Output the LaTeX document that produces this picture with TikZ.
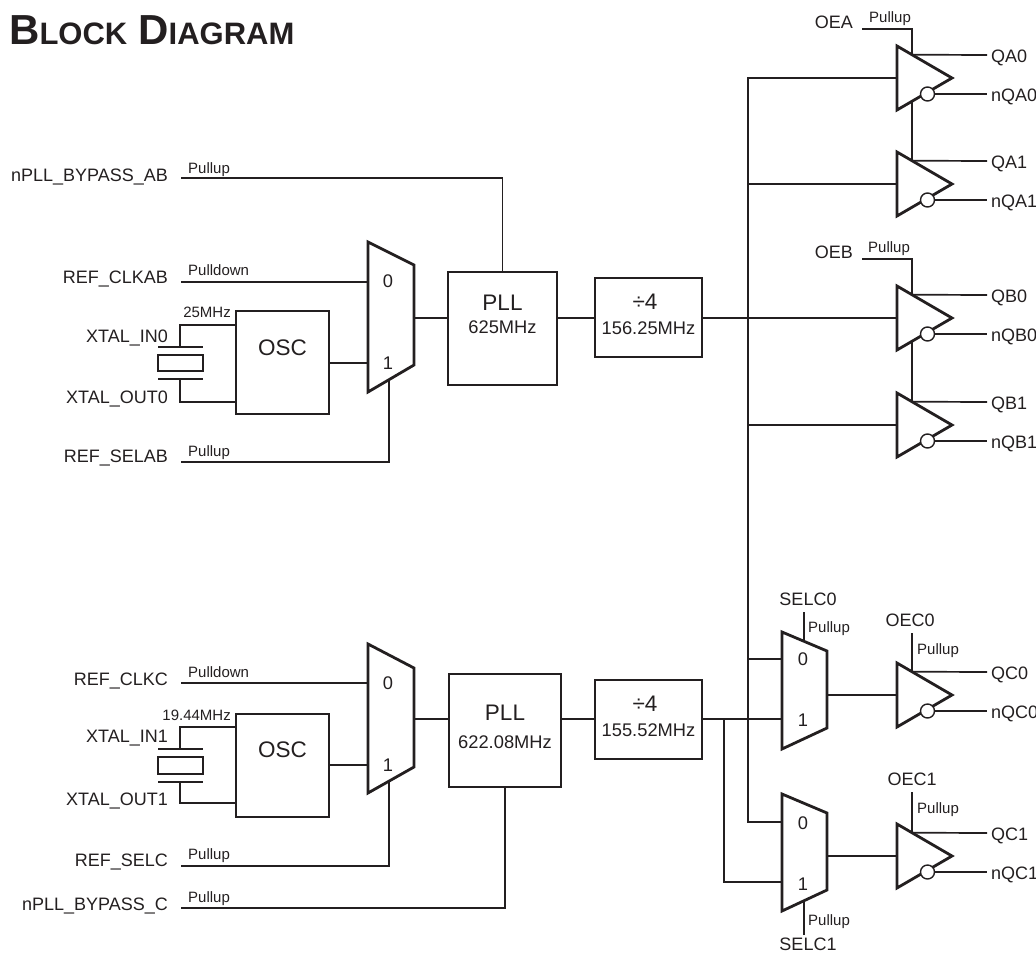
\documentclass[tikz,border=0pt]{standalone}
\usepackage{fontspec}
\setmainfont{Liberation Sans}
\definecolor{ink}{HTML}{231F20}
\tikzset{
  wire/.style={draw=ink, line width=1.7pt},
  blk/.style={draw=ink, line width=2pt, inner sep=0pt, outer sep=0pt},
  bufs/.style={draw=ink, line width=2.8pt, fill=white, line join=miter},
  muxs/.style={draw=ink, line width=2.8pt, line join=miter},
  bubs/.style={draw=ink, line width=1.4pt, fill=white},
  lbl/.style={text=ink, inner sep=0pt, font=\fontsize{18}{20}\selectfont},
  pul/.style={text=ink, inner sep=0pt, font=\fontsize{15}{17}\selectfont},
  big/.style={text=ink, inner sep=0pt, font=\fontsize{22.5}{26}\selectfont},
  mid/.style={text=ink, inner sep=0pt, font=\fontsize{18.3}{21}\selectfont},
  buffer/.pic={
    \coordinate (-in) at (-27.5,0);
    \coordinate (-oet) at (-12.5,-23.3);
    \coordinate (-oeb) at (-12.5,23.3);
    \coordinate (-q) at (62.5,-23);
    \coordinate (-nqs) at (10,16);
    \coordinate (-nq) at (62.5,16);
    \draw[wire] (-oet) -- (-q);
    \draw[wire] (-nqs) -- (-nq);
    \draw[bufs] (-27.5,-32) -- (27.5,0) -- (-27.5,32) -- cycle;
    \draw[bubs] (3,16) circle[radius=7pt];
  }
}
\begin{document}
\begin{tikzpicture}[x=1pt,y=-1pt]
\useasboundingbox (0,0) rectangle (1036,956);

% title
\node[anchor=base west, inner sep=0pt, text=ink] (title) at (9,44.5)
  {\bfseries\fontsize{42}{48}\selectfont B\fontsize{31}{36}\selectfont LOCK\hspace{11pt}\fontsize{42}{48}\selectfont D\fontsize{31}{36}\selectfont IAGRAM};

% ================= top section =================
\node[blk, minimum width=93pt, minimum height=103pt] (osc0) at (282.5,362.5) {};
\node[big] (osc0t) at (282.5,348) {OSC};
\node[blk, minimum width=109pt, minimum height=113pt] (pll0) at (502.5,328.5) {};
\node[big] (pll0t) at (502.5,303) {PLL};
\node[mid] (pll0f) at (502.5,327) {625MHz};
\node[blk, minimum width=107pt, minimum height=79pt] (div0) at (648.5,317.5) {};
\node[big] (div0t) at (645,302) {÷4};
\node[mid] (div0f) at (648.5,328) {156.25MHz};

% mux 0
\draw[muxs] (368,242) -- (414,265) -- (414,365) -- (368,392) -- cycle;
\node[mid] (m0a) at (388,281) {0};
\node[mid] (m0b) at (388,363) {1};
\coordinate (m0in0) at (368,282);
\coordinate (m0in1) at (368,363);
\coordinate (m0sel) at (389,379.7);
\coordinate (m0out) at (414,318);

% input labels
\node[lbl, anchor=base east] (nbab) at (168,181.5) {nPLL\_BYPASS\_AB};
\node[pul, anchor=base west] (nbabp) at (188,173) {Pullup};
\coordinate (nbabw) at (181,178);
\node[lbl, anchor=base east] (rcab) at (168,283) {REF\_CLKAB};
\node[pul, anchor=base west] (rcabp) at (188,275.5) {Pulldown};
\coordinate (rcabw) at (181,282);
\node[lbl, anchor=base east] (xi0) at (168,342) {XTAL\_IN0};
\node[lbl, anchor=base east] (xo0) at (168,403) {XTAL\_OUT0};
\node[pul, anchor=base east] (f0) at (231,317) {25MHz};
\node[lbl, anchor=base east] (rsab) at (168,462) {REF\_SELAB};
\node[pul, anchor=base west] (rsabp) at (188,456.5) {Pullup};
\coordinate (rsabw) at (181,462);

\draw[wire] (nbabw) -| (pll0.north);
\draw[wire] (rcabw) -- (m0in0);
\draw[wire] (rsabw) -| (m0sel);
\draw[wire] (m0out) -- (m0out -| pll0.west);
\draw[wire] (pll0.east |- m0out) -- (div0.west |- m0out);

% crystal 0
\coordinate (x0t) at (180,325);
\coordinate (x0b) at (180,402);
\draw[wire] (osc0.west |- x0t) -- (x0t) -- (180,347);
\draw[wire] (158,347) -- (203,347);
\draw[wire] (158,355) rectangle (203,371);
\draw[wire] (158,379) -- (203,379);
\draw[wire] (180,379) -- (x0b) -- (osc0.west |- x0b);
\draw[wire] (osc0.east |- m0in1) -- (m0in1);

% ================= buffers A/B =================
\pic (ba0) at (924.5,78) {buffer};
\pic (ba1) at (924.5,184) {buffer};
\pic (bb0) at (924.5,318) {buffer};
\pic (bb1) at (924.5,425) {buffer};

\coordinate (oea) at (862,29);
\coordinate (oeb) at (862,259);
\node[lbl, anchor=base east] (oeat) at (853,28) {OEA};
\node[pul, anchor=base west] (oeap) at (869,22) {Pullup};
\node[lbl, anchor=base east] (oebt) at (853,258) {OEB};
\node[pul, anchor=base west] (oebp) at (868,252) {Pullup};
\draw[wire] (oea) -| (ba0-oet);
\draw[wire] (ba0-oeb) -- (ba1-oet);
\draw[wire] (oeb) -| (bb0-oet);
\draw[wire] (bb0-oeb) -- (bb1-oet);

\node[lbl, anchor=base west] (qa0) at (991,62) {QA0};
\node[lbl, anchor=base west] (nqa0) at (991,101) {nQA0};
\node[lbl, anchor=base west] (qa1) at (991,168) {QA1};
\node[lbl, anchor=base west] (nqa1) at (991,207) {nQA1};
\node[lbl, anchor=base west] (qb0) at (991,302) {QB0};
\node[lbl, anchor=base west] (nqb0) at (991,341) {nQB0};
\node[lbl, anchor=base west] (qb1) at (991,409) {QB1};
\node[lbl, anchor=base west] (nqb1) at (991,448) {nQB1};

% bus
\coordinate (bustop) at (748,78);
\coordinate (busbot) at (748,822);
\draw[wire] (div0.east |- m0out) -- (bb0-in);
\draw[wire] (ba0-in) -- (bustop) -- (busbot) -- (782,822);
\draw[wire] (748,184) -- (ba1-in);
\draw[wire] (748,425) -- (bb1-in);

% ================= bottom section =================
\node[blk, minimum width=93pt, minimum height=103pt] (osc1) at (282.5,765.5) {};
\node[big] (osc1t) at (282.5,750) {OSC};
\node[blk, minimum width=112pt, minimum height=113pt] (pll1) at (505,730.5) {};
\node[big] (pll1t) at (505,713) {PLL};
\node[mid] (pll1f) at (505,742) {622.08MHz};
\node[blk, minimum width=107pt, minimum height=79pt] (div1) at (648.5,719.5) {};
\node[big] (div1t) at (645,704) {÷4};
\node[mid] (div1f) at (648.5,730) {155.52MHz};

\draw[muxs] (368,644) -- (414,668) -- (414,767) -- (368,793) -- cycle;
\node[mid] (m1a) at (388,683) {0};
\node[mid] (m1b) at (388,765) {1};
\coordinate (m1in0) at (368,683);
\coordinate (m1in1) at (368,765);
\coordinate (m1sel) at (389,781);
\coordinate (m1out) at (414,719);

\node[lbl, anchor=base east] (rcc) at (168,685) {REF\_CLKC};
\node[pul, anchor=base west] (rccp) at (188,677.5) {Pulldown};
\coordinate (rccw) at (181,683);
\node[lbl, anchor=base east] (xi1) at (168,742) {XTAL\_IN1};
\node[lbl, anchor=base east] (xo1) at (168,805) {XTAL\_OUT1};
\node[pul, anchor=base east] (f1) at (231,720) {19.44MHz};
\node[lbl, anchor=base east] (rsc) at (168,866) {REF\_SELC};
\node[pul, anchor=base west] (rscp) at (188,859) {Pullup};
\coordinate (rscw) at (181,866);
\node[lbl, anchor=base east] (nbc) at (168,910) {nPLL\_BYPASS\_C};
\node[pul, anchor=base west] (nbcp) at (188,902) {Pullup};
\coordinate (nbcw) at (181,908);

\draw[wire] (rccw) -- (m1in0);
\draw[wire] (rscw) -| (m1sel);
\draw[wire] (nbcw) -| (pll1.south);
\draw[wire] (m1out) -- (m1out -| pll1.west);
\draw[wire] (pll1.east |- m1out) -- (div1.west |- m1out);

% crystal 1
\coordinate (x1t) at (180,727);
\coordinate (x1b) at (180,803);
\draw[wire] (osc1.west |- x1t) -- (x1t) -- (180,749);
\draw[wire] (158,749) -- (203,749);
\draw[wire] (158,757) rectangle (203,774);
\draw[wire] (158,782) -- (203,782);
\draw[wire] (180,782) -- (x1b) -- (osc1.west |- x1b);
\draw[wire] (osc1.east |- m1in1) -- (m1in1);

% ================= C muxes and buffers =================
\draw[muxs] (782,632) -- (827,651) -- (827,728) -- (782,749) -- cycle;
\node[mid] (mc0a) at (803,659) {0};
\node[mid] (mc0b) at (803,720) {1};
\draw[muxs] (782,794) -- (827,813) -- (827,890) -- (782,911) -- cycle;
\node[mid] (mc1a) at (803,823) {0};
\node[mid] (mc1b) at (803,884) {1};

\coordinate (mc0in0) at (782,659);
\coordinate (mc0in1) at (782,719);
\coordinate (mc1in1) at (782,882);
\coordinate (mc0out) at (827,695);
\coordinate (mc1out) at (827,856);
\coordinate (br) at (724,719);

\draw[wire] (748,659) -- (mc0in0);
\draw[wire] (div1.east |- m1out) -- (mc0in1);
\draw[wire] (br) |- (mc1in1);

\pic (bc0) at (924.5,695) {buffer};
\pic (bc1) at (924.5,856) {buffer};
\draw[wire] (mc0out) -- (bc0-in);
\draw[wire] (mc1out) -- (bc1-in);

% selects and enables
\node[lbl, anchor=base] (selc0) at (808,605) {SELC0};
\node[pul, anchor=base west] (selc0p) at (808,632) {Pullup};
\draw[wire] (804,612) -- (804,641.3);
\node[lbl, anchor=base] (selc1) at (808,950) {SELC1};
\node[pul, anchor=base west] (selc1p) at (808,925) {Pullup};
\draw[wire] (804,935) -- (804,900.7);
\node[lbl, anchor=base] (oec0) at (910,626) {OEC0};
\node[pul, anchor=base west] (oec0p) at (917,654) {Pullup};
\draw[wire] (912,633) -- (bc0-oet);
\node[lbl, anchor=base] (oec1) at (912,785) {OEC1};
\node[pul, anchor=base west] (oec1p) at (917,813) {Pullup};
\draw[wire] (912,792) -- (bc1-oet);

\node[lbl, anchor=base west] (qc0) at (991,679) {QC0};
\node[lbl, anchor=base west] (nqc0) at (991,718) {nQC0};
\node[lbl, anchor=base west] (qc1) at (991,840) {QC1};
\node[lbl, anchor=base west] (nqc1) at (991,879) {nQC1};
\end{tikzpicture}
\end{document}
